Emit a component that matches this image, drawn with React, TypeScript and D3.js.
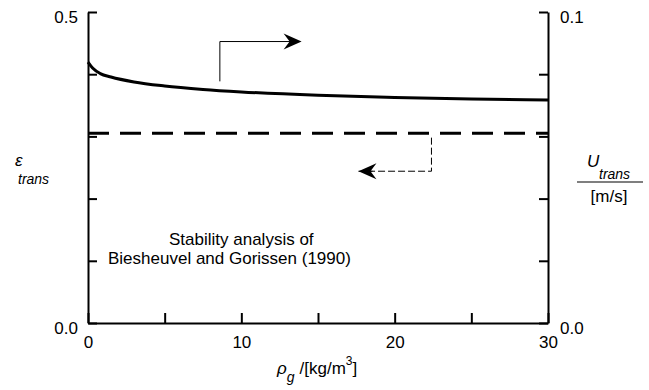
import { useEffect, useRef } from "react";
import * as d3 from "d3";

// gas density rho_g [kg/m3]
const rhoValues = [0, 0.3, 0.8, 1.5, 3, 5, 7.5, 10, 15, 20, 25, 30];
// U_trans [m/s], right axis
const uTrans = [0.0839, 0.082, 0.0802, 0.0791, 0.0775, 0.0762, 0.0751, 0.0743, 0.0732, 0.0725, 0.072, 0.0717];
// eps_trans, left axis (flat)
const epsRho = [0, 30];
const epsTrans = [0.305, 0.305];

const leftTicks = [0, 0.1, 0.2, 0.3, 0.4, 0.5];
const rightTicks = [0, 0.02, 0.04, 0.06, 0.08, 0.1];
const xTicks = [0, 5, 10, 15, 20, 25, 30];
const xLabels = [0, 10, 20, 30];

const annotation = ["Stability analysis of", "Biesheuvel and Gorissen (1990)"];

const FONT = "'Liberation Sans', Arial, Helvetica, sans-serif";

export default function App() {
  const ref = useRef<SVGSVGElement>(null);

  useEffect(() => {
    const width = 649;
    const height = 390;
    const margin = { top: 12, right: 101, bottom: 67, left: 88 };

    const svg = d3.select(ref.current).attr("width", width).attr("height", height);
    svg.selectAll("*").remove();

    const x = d3.scaleLinear().domain([0, 30]).range([margin.left, width - margin.right]);
    const yL = d3.scaleLinear().domain([0, 0.5]).range([height - margin.bottom, margin.top]);
    const yR = d3.scaleLinear().domain([0, 0.1]).range([height - margin.bottom, margin.top]);

    // left axis
    const gl = svg
      .append("g")
      .attr("transform", `translate(${margin.left},0)`)
      .call(
        d3
          .axisLeft(yL)
          .tickValues(leftTicks)
          .tickSizeInner(-9)
          .tickSizeOuter(0)
          .tickPadding(10)
          .tickFormat((d) => (d === 0 || d === 0.5 ? d3.format(".1f")(d as number) : ""))
      );

    // right axis
    const gr = svg
      .append("g")
      .attr("transform", `translate(${width - margin.right},0)`)
      .call(
        d3
          .axisRight(yR)
          .tickValues(rightTicks)
          .tickSizeInner(-9)
          .tickSizeOuter(0)
          .tickPadding(12)
          .tickFormat((d) => (d === 0 || d === 0.1 ? d3.format(".1f")(d as number) : ""))
      );

    // bottom axis
    const gb = svg
      .append("g")
      .attr("transform", `translate(0,${height - margin.bottom})`)
      .call(
        d3
          .axisBottom(x)
          .tickValues(xTicks)
          .tickSizeInner(-10)
          .tickSizeOuter(0)
          .tickPadding(13)
          .tickFormat((d) => (xLabels.includes(d as number) ? String(d) : ""))
      );

    [gl, gr, gb].forEach((g) => {
      g.select(".domain").attr("stroke", "#000").attr("stroke-width", 2);
      g.selectAll(".tick line").attr("stroke", "#000").attr("stroke-width", 2);
      g.selectAll(".tick text")
        .attr("fill", "#000")
        .style("font-family", FONT)
        .style("font-size", "17px");
    });
    gl.selectAll(".tick text").attr("y", 5);
    gr.selectAll(".tick text").attr("y", 5);

    // U_trans curve
    const pts: [number, number][] = rhoValues.map((r, i) => [r, uTrans[i]]);
    svg
      .append("path")
      .datum(pts)
      .attr("fill", "none")
      .attr("stroke", "#000")
      .attr("stroke-width", 3)
      .attr(
        "d",
        d3
          .line<[number, number]>()
          .x((d) => x(d[0]))
          .y((d) => yR(d[1]))
          .curve(d3.curveMonotoneX)
      );

    // eps_trans dashed line
    const epsPts: [number, number][] = epsRho.map((r, i) => [r, epsTrans[i]]);
    svg
      .append("path")
      .datum(epsPts)
      .attr("fill", "none")
      .attr("stroke", "#000")
      .attr("stroke-width", 3)
      .attr("stroke-dasharray", "21 11")
      .attr(
        "d",
        d3
          .line<[number, number]>()
          .x((d) => x(d[0]))
          .y((d) => yL(d[1]))
      );

    // arrow pointing to right axis
    const upArrow: [number, number][] = [
      [8.6, 0.0777],
      [8.6, 0.0905],
      [13.8, 0.0905],
    ];
    svg
      .append("path")
      .attr("fill", "none")
      .attr("stroke", "#000")
      .attr("stroke-width", 1)
      .attr("d", d3.line().x((d) => x(d[0])).y((d) => yR(d[1]))(upArrow));
    const ha = [x(13.8) + 2, yR(0.0905)];
    svg
      .append("path")
      .attr("fill", "#000")
      .attr("d", `M${ha[0]},${ha[1]} L${ha[0] - 18},${ha[1] - 8} L${ha[0] - 12},${ha[1]} L${ha[0] - 18},${ha[1] + 8} Z`);

    // arrow pointing to left axis
    const downArrow: [number, number][] = [
      [22.4, 0.298],
      [22.4, 0.244],
      [17.9, 0.244],
    ];
    svg
      .append("path")
      .attr("fill", "none")
      .attr("stroke", "#000")
      .attr("stroke-width", 1)
      .attr("stroke-dasharray", "7 3")
      .attr("d", d3.line().x((d) => x(d[0])).y((d) => yL(d[1]))(downArrow));
    const hb = [x(17.9) - 4, yL(0.244)];
    svg
      .append("line")
      .attr("x1", hb[0])
      .attr("x2", hb[0] + 14)
      .attr("y1", hb[1])
      .attr("y2", hb[1])
      .attr("stroke", "#000")
      .attr("stroke-width", 1);
    svg
      .append("path")
      .attr("fill", "#000")
      .attr("d", `M${hb[0]},${hb[1]} L${hb[0] + 18},${hb[1] - 8} L${hb[0] + 12},${hb[1]} L${hb[0] + 18},${hb[1] + 8} Z`);

    // annotation
    svg
      .append("text")
      .attr("x", 169)
      .attr("y", 245)
      .style("font-family", FONT)
      .style("font-size", "17px")
      .text(annotation[0]);
    svg
      .append("text")
      .attr("x", 108)
      .attr("y", 264)
      .style("font-family", FONT)
      .style("font-size", "17px")
      .text(annotation[1]);

    // left axis label
    const el = svg.append("text").attr("x", 15).attr("y", 166).style("font-family", FONT).style("font-style", "italic");
    el.append("tspan").style("font-size", "17px").text("ε");
    el.append("tspan").attr("x", 18).attr("y", 184).style("font-size", "14px").text("trans");

    // right axis label
    const ur = svg.append("text").attr("x", 587).attr("y", 167).style("font-family", FONT).style("font-style", "italic");
    ur.append("tspan").style("font-size", "17px").text("U");
    ur.append("tspan").attr("x", 599).attr("y", 179).style("font-size", "14px").text("trans");
    svg
      .append("line")
      .attr("x1", 577)
      .attr("x2", 643)
      .attr("y1", 182)
      .attr("y2", 182)
      .attr("stroke", "#000")
      .attr("stroke-width", 1.2);
    svg
      .append("text")
      .attr("x", 609)
      .attr("y", 202)
      .attr("text-anchor", "middle")
      .style("font-family", FONT)
      .style("font-size", "17px")
      .text("[m/s]");

    // x axis label
    const xl = svg.append("text").attr("x", 277).attr("y", 374).style("font-family", FONT).style("font-size", "17px");
    xl.append("tspan").style("font-style", "italic").text("ρ");
    xl.append("tspan").attr("dy", 8).style("font-style", "italic").style("font-size", "14px").text("g");
    xl.append("tspan").attr("dy", -8).attr("dx", 5).text("/[kg/m");
    xl.append("tspan").attr("dy", -9).style("font-size", "12px").text("3");
    xl.append("tspan").attr("dy", 9).text("]");
  }, []);

  return (
    <div>
      <svg ref={ref} style={{ position: "absolute", left: 0, top: 0, background: "#fff" }} />
    </div>
  );
}
